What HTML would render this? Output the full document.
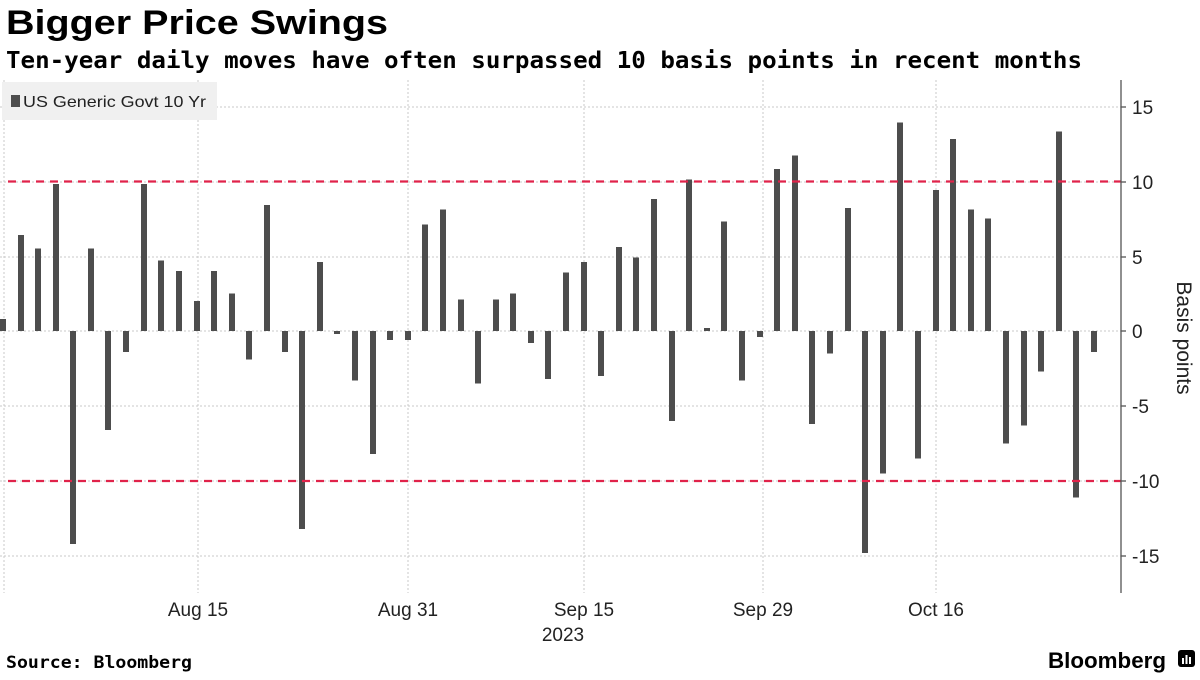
<!DOCTYPE html>
<html><head><meta charset="utf-8"><style>
body{margin:0;width:1200px;height:675px;background:#fff;overflow:hidden;font-family:"Liberation Sans",sans-serif;}
</style></head><body>
<svg width="1200" height="675" xmlns="http://www.w3.org/2000/svg" font-family="Liberation Sans, sans-serif">
<text x="6" y="34" font-size="34" font-weight="bold" fill="#000" textLength="382" lengthAdjust="spacingAndGlyphs">Bigger Price Swings</text>
<text x="6" y="68" font-size="23" font-weight="bold" fill="#000" font-family="DejaVu Sans Mono, Liberation Mono, monospace" textLength="1076" lengthAdjust="spacingAndGlyphs">Ten-year daily moves have often surpassed 10 basis points in recent months</text>
<g stroke="#c8c8c8" stroke-width="1" stroke-dasharray="2,2">
<line x1="0" x2="1121" y1="107" y2="107"/><line x1="0" x2="1121" y1="182" y2="182"/><line x1="0" x2="1121" y1="257" y2="257"/><line x1="0" x2="1121" y1="331" y2="331"/><line x1="0" x2="1121" y1="406" y2="406"/><line x1="0" x2="1121" y1="481" y2="481"/><line x1="0" x2="1121" y1="556" y2="556"/>
<line x1="4" x2="4" y1="80" y2="593"/><line x1="198" x2="198" y1="80" y2="593"/><line x1="408" x2="408" y1="80" y2="593"/><line x1="584" x2="584" y1="80" y2="593"/><line x1="763" x2="763" y1="80" y2="593"/><line x1="936" x2="936" y1="80" y2="593"/>
</g>
<rect x="2" y="82" width="215" height="38" fill="#f0f0f0"/>
<rect x="11" y="95" width="9" height="12" fill="#4d4d4d"/>
<text x="23" y="107" font-size="16" fill="#222" textLength="183" lengthAdjust="spacingAndGlyphs">US Generic Govt 10 Yr</text>
<g id="bars" fill="#4d4d4d"></g>
<g stroke="#e0234a" stroke-width="2.2" stroke-dasharray="8,6">
<line x1="8" x2="1121" y1="181.5" y2="181.5"/><line x1="8" x2="1121" y1="481" y2="481"/>
</g>
<line x1="1121" x2="1121" y1="80" y2="593" stroke="#555" stroke-width="1.3"/>
<g stroke="#555" stroke-width="1.3">
<line x1="1121" x2="1126" y1="107" y2="107"/><line x1="1121" x2="1126" y1="182" y2="182"/><line x1="1121" x2="1126" y1="257" y2="257"/><line x1="1121" x2="1126" y1="331" y2="331"/><line x1="1121" x2="1126" y1="406" y2="406"/><line x1="1121" x2="1126" y1="481" y2="481"/><line x1="1121" x2="1126" y1="556" y2="556"/>
</g>
<g font-size="19" fill="#222">
<text x="1132" y="114">15</text><text x="1132" y="189">10</text><text x="1132" y="264">5</text><text x="1132" y="338">0</text><text x="1132" y="413">-5</text><text x="1132" y="488">-10</text><text x="1132" y="563">-15</text>
</g>
<text transform="translate(1177,338) rotate(90)" text-anchor="middle" font-size="21" fill="#222">Basis points</text>
<g font-size="19" fill="#222" text-anchor="middle">
<text x="198" y="616">Aug 15</text><text x="408" y="616">Aug 31</text><text x="584" y="616">Sep 15</text><text x="563" y="641">2023</text><text x="763" y="616">Sep 29</text><text x="936" y="616">Oct 16</text>
</g>
<text x="6" y="668" font-size="17" font-weight="bold" font-family="DejaVu Sans Mono, Liberation Mono, monospace" fill="#000" textLength="186" lengthAdjust="spacingAndGlyphs">Source: Bloomberg</text>
<text x="1166" y="668" font-size="22" font-weight="bold" fill="#000" text-anchor="end" textLength="118" lengthAdjust="spacingAndGlyphs">Bloomberg</text>
<rect x="1178" y="650" width="17" height="17" rx="3" fill="#000"/>
<g fill="#fff"><rect x="1182" y="658" width="2" height="6"/><rect x="1185.5" y="655" width="2" height="9"/><rect x="1189" y="657" width="2" height="7"/></g>
</svg>
<script>
var d=[[3,0.8],[21,6.4],[38,5.5],[56,9.8],[73,-14.2],[91,5.5],[108,-6.6],[126,-1.4],[144,9.8],[161,4.7],[179,4.0],[197,2.0],[214,4.0],[232,2.5],[249,-1.9],[267,8.4],[285,-1.4],[302,-13.2],[320,4.6],[337,-0.2],[355,-3.3],[373,-8.2],[390,-0.6],[408,-0.6],[425,7.1],[443,8.1],[461,2.1],[478,-3.5],[496,2.1],[513,2.5],[531,-0.8],[548,-3.2],[566,3.9],[584,4.6],[601,-3.0],[619,5.6],[636,4.9],[654,8.8],[672,-6.0],[689,10.1],[707,0.2],[724,7.3],[742,-3.3],[760,-0.4],[777,10.8],[795,11.7],[812,-6.2],[830,-1.5],[848,8.2],[865,-14.8],[883,-9.5],[900,13.9],[918,-8.5],[936,9.4],[953,12.8],[971,8.1],[988,7.5],[1006,-7.5],[1024,-6.3],[1041,-2.7],[1059,13.3],[1076,-11.1],[1094,-1.4]];
var g=document.getElementById('bars'),s='';
d.forEach(function(b){var h=Math.abs(b[1])*15,y=b[1]>0?331-h:331;s+='<rect x="'+(b[0]-3)+'" y="'+y+'" width="6" height="'+Math.max(h,1)+'"/>';});
g.innerHTML=s;
</script>
</body></html>
